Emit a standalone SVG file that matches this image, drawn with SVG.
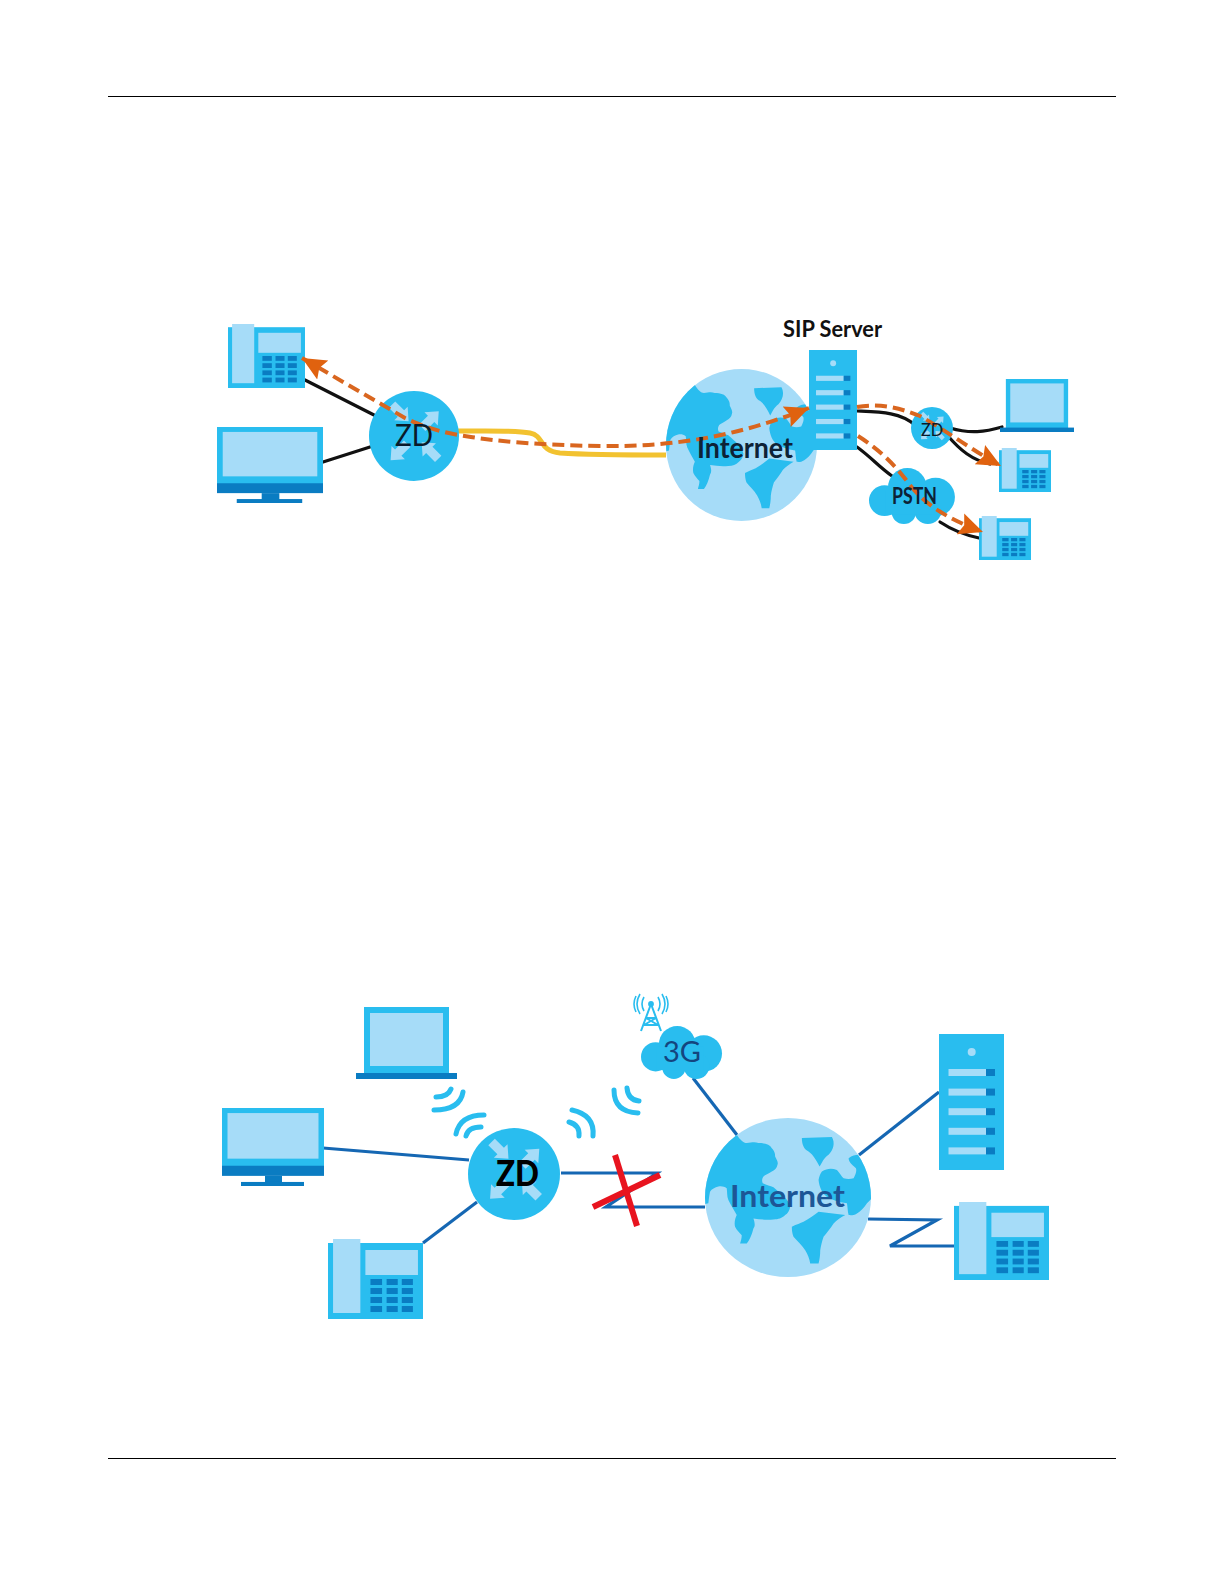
<svg xmlns="http://www.w3.org/2000/svg" xmlns:xlink="http://www.w3.org/1999/xlink" width="1224" height="1584" viewBox="0 0 1224 1584">
<style>
.b{fill:#29bdef}.l{fill:#a6dcf8}.d{fill:#0a7cc2}
.wire{fill:none;stroke:#111;stroke-width:3.200;stroke-linecap:round}
.blue{fill:none;stroke:#1567b3;stroke-width:3.200;stroke-linejoin:miter}
.flow{fill:none;stroke:#d9661f;stroke-width:4;stroke-dasharray:12 6}
.wifi{fill:none;stroke:#29bdef;stroke-width:5;stroke-linecap:round}
.t{font-family:"Lato","Liberation Sans",sans-serif;text-anchor:start}
</style>
<defs>
<marker id="ah" markerUnits="userSpaceOnUse" markerWidth="30" markerHeight="30" refX="24" refY="12" orient="auto-start-reverse" viewBox="0 0 30 24">
<path d="M24,12 L0,1 L4,12 L0,23 Z" fill="#e0620f"/>
</marker>
<symbol id="phone" viewBox="0 0 94 80" preserveAspectRatio="none">
<rect class="b" x="0" y="4" width="94" height="76"/>
<rect class="l" x="5" y="0" width="27" height="74"/>
<rect class="l" x="37" y="11" width="52" height="25"/>
<g class="d">
<rect x="42" y="40" width="11.500" height="6"/><rect x="58" y="40" width="11" height="6"/><rect x="73" y="40" width="11" height="6"/>
<rect x="42" y="49" width="11.500" height="6"/><rect x="58" y="49" width="11" height="6"/><rect x="73" y="49" width="11" height="6"/>
<rect x="42" y="58" width="11.500" height="6"/><rect x="58" y="58" width="11" height="6"/><rect x="73" y="58" width="11" height="6"/>
<rect x="42" y="67" width="11.500" height="6"/><rect x="58" y="67" width="11" height="6"/><rect x="73" y="67" width="11" height="6"/>
</g>
</symbol>
<symbol id="monitor" viewBox="0 0 102 77" preserveAspectRatio="none">
<rect class="b" x="0" y="0" width="102" height="58"/>
<rect class="l" x="5.500" y="5" width="91" height="45"/>
<rect class="d" x="0" y="57" width="102" height="10"/>
<rect class="d" x="43" y="67" width="17" height="7"/>
<rect class="d" x="19" y="73" width="63" height="4"/>
</symbol>
<symbol id="laptop" viewBox="0 0 101 72" preserveAspectRatio="none">
<rect class="b" x="8" y="0" width="85" height="67"/>
<rect class="l" x="14" y="6" width="73" height="53"/>
<rect class="d" x="0" y="66" width="101" height="6"/>
</symbol>
<symbol id="server" viewBox="0 0 65 136" preserveAspectRatio="none">
<rect class="b" width="65" height="136"/>
<circle class="l" cx="32.700" cy="18" r="4"/>
<g class="l"><rect x="9.500" y="35" width="37.500" height="7"/><rect x="9.500" y="54.600" width="37.500" height="7"/><rect x="9.500" y="74.200" width="37.500" height="7"/><rect x="9.500" y="93.800" width="37.500" height="7"/><rect x="9.500" y="113.400" width="37.500" height="7"/></g>
<g class="d"><rect x="47" y="35" width="9" height="7"/><rect x="47" y="54.600" width="9" height="7"/><rect x="47" y="74.200" width="9" height="7"/><rect x="47" y="93.800" width="9" height="7"/><rect x="47" y="113.400" width="9" height="7"/></g>
</symbol>
<clipPath id="gc"><ellipse cx="563.500" cy="652.500" rx="248.500" ry="237.500"/></clipPath>
<symbol id="globe" viewBox="315 415 497 475" preserveAspectRatio="none">
<ellipse class="l" cx="563.500" cy="652.500" rx="248.500" ry="237.500"/>
<g class="b" clip-path="url(#gc)">
<path d="M300,400 L410,465 C420,480 430,490 440,490 C455,488 465,486 475,490 C495,490 510,495 515,505 C525,515 525,525 525,530 C530,540 535,548 532,555 C530,565 525,570 515,575 C505,582 495,585 490,590 C485,597 485,605 488,610 C500,615 510,618 520,622 C540,640 565,655 570,680 C568,692 563,700 555,705 C545,715 535,718 520,718 C500,720 480,718 460,715 C465,730 465,738 460,745 C455,765 448,780 440,790 L420,790 C422,782 425,775 425,765 C418,758 410,750 405,740 C402,728 405,715 410,705 C402,690 392,675 385,660 C380,648 382,635 380,625 C372,620 365,618 355,620 C345,622 335,628 330,635 C328,645 326,660 325,670 L280,680 Z"/>
<path d="M605,475 L695,472 C705,490 700,510 685,525 C670,535 665,550 658,560 C650,545 640,525 625,515 C612,510 605,495 605,475 Z"/>
<path d="M745,535 C755,528 765,525 775,525 L830,600 L815,655 L800,670 C790,685 780,695 770,700 C760,706 752,706 745,705 C742,695 742,680 740,670 C715,665 695,660 680,650 C665,640 657,620 655,600 C657,590 660,582 665,575 C680,565 695,565 710,570 C718,578 724,590 730,595 C740,598 750,598 760,595 C765,585 770,575 767,565 C762,558 745,550 745,535 Z"/>
<path d="M575,740 C590,732 600,730 610,725 C628,715 642,705 655,695 L735,705 C722,712 710,720 700,730 C690,745 680,758 670,770 C665,785 662,797 660,810 C660,825 658,838 655,850 L630,850 C628,835 622,822 615,810 C605,795 590,782 580,770 C576,760 575,750 575,740 Z"/>
</g>
</symbol>
<symbol id="cloud" viewBox="123 137 247 160" preserveAspectRatio="none">
<g class="b"><circle cx="167" cy="230" r="44"/><circle cx="232" cy="192" r="55"/><circle cx="312" cy="220" r="55"/><circle cx="222" cy="262" r="35"/><circle cx="290" cy="258" r="39"/><rect x="170" y="200" width="140" height="70"/></g>
</symbol>
<g id="arrow"><path d="M0,0 L-24,-21 L-24,-10 L-52,-10 L-52,10 L-24,10 L-24,21 Z" class="l"/></g>
<symbol id="router" viewBox="-100 -100 200 200">
<circle class="b" r="100"/>
<use href="#arrow" transform="translate(-12,-33) rotate(45)"/>
<use href="#arrow" transform="translate(55,-55) rotate(-45)"/>
<use href="#arrow" transform="translate(-52,54) rotate(135)"/>
<use href="#arrow" transform="translate(17,14) rotate(225)"/>
</symbol>
</defs>
<rect width="1224" height="1584" fill="#fff"/>
<line x1="108" y1="96.500" x2="1116" y2="96.500" stroke="#000" stroke-width="1"/>
<line x1="108" y1="1458.500" x2="1116" y2="1458.500" stroke="#000" stroke-width="1"/>

<g id="connectors">
<path class="wire" d="M305,380 L374,415"/>
<path class="wire" d="M323,462 L370,447"/>
<path d="M458,431 C490,431 515,430 530,433 C545,436 538,451 560,453 C590,455 630,455 666,455" fill="none" stroke="#f2c230" stroke-width="5"/>
<path class="wire" d="M857,411 C880,412 900,412 915,425"/>
<path class="wire" d="M950,428 C970,434 985,432 1002,427"/>
<path class="wire" d="M948,436 C960,450 972,460 990,464"/>
<path class="wire" d="M857,447 C872,458 878,466 892,476"/>
<path class="wire" d="M940,522 C952,530 965,535 979,538"/>
<path class="blue" d="M323,1148 L469,1160"/>
<path class="blue" d="M423,1243 L477,1202"/>
<path class="blue" d="M561,1173 L657,1173 L606,1207 L705,1207"/>
<path class="blue" d="M693,1078 L737,1135"/>
<path class="blue" d="M859,1155 L939,1092"/>
<path class="blue" d="M868,1219 L937,1220 L890,1246 L954,1246"/>
</g>

<g id="phone-1"><use href="#phone" x="228" y="324" width="77" height="64"/></g>
<g id="monitor-1"><use href="#monitor" x="217" y="427" width="106" height="76"/></g>
<g id="router-1"><use href="#router" x="369" y="391" width="90" height="90"/></g>
<g id="internet-1"><use href="#globe" x="666" y="369" width="151" height="152"/></g>
<g id="server-1"><use href="#server" x="809" y="350" width="48" height="100"/></g>
<g id="router-2"><use href="#router" x="911" y="407" width="42" height="42"/></g>
<g id="laptop-1"><use href="#laptop" x="1000" y="379" width="74" height="53"/></g>
<g id="phone-2"><use href="#phone" x="999" y="448" width="52" height="44"/></g>
<g id="pstn"><use href="#cloud" x="869" y="468" width="87" height="56"/></g>
<g id="phone-3"><use href="#phone" x="979" y="516" width="52" height="44"/></g>

<g id="monitor-2"><use href="#monitor" x="222" y="1108" width="102" height="78"/></g>
<g id="laptop-2"><use href="#laptop" x="356" y="1007" width="101" height="72"/></g>
<g id="phone-4"><use href="#phone" x="328" y="1239" width="95" height="80"/></g>
<g id="router-3"><use href="#router" x="468" y="1128" width="92" height="92"/></g>
<g id="internet-2"><use href="#globe" x="705" y="1118" width="166" height="159"/></g>
<g id="server-2"><use href="#server" x="939" y="1034" width="65" height="136"/></g>
<g id="phone-5"><use href="#phone" x="954" y="1202" width="95" height="78"/></g>
<g id="cloud-3g"><use href="#cloud" x="641" y="1026" width="82" height="53"/></g>

<g id="tower" fill="none" stroke="#29bdef" stroke-width="1.800">
<path d="M651,1004 L641,1031 M651,1004 L661,1031 M646,1018 L656,1018 M644,1025 L658,1025 M646,1018 L658,1025 M656,1018 L644,1025" stroke-width="2"/>
<circle cx="651" cy="1004" r="2" fill="#29bdef"/>
<path d="M644,997 Q640,1004 644,1011 M658,997 Q662,1004 658,1011 M640,994 Q634,1004 640,1014 M662,994 Q668,1004 662,1014 M636,996 Q632,1004 636,1012 M666,996 Q670,1004 666,1012" stroke-width="1.600"/>
</g>

<g id="wifi">
<path class="wifi" d="M436,1097 Q448,1097 451,1089"/>
<path class="wifi" d="M434,1110 Q460,1110 463,1092"/>
<path class="wifi" d="M466,1136 Q468,1127 481,1127"/>
<path class="wifi" d="M456,1134 Q460,1115 484,1115"/>
<path class="wifi" d="M569,1122 Q580,1125 579,1136"/>
<path class="wifi" d="M572,1110 Q595,1115 593,1136"/>
<path class="wifi" d="M627,1088 Q628,1100 639,1101"/>
<path class="wifi" d="M614,1090 Q614,1112 638,1113"/>
</g>

<g id="cross" stroke="#e8141f" stroke-width="6">
<line x1="615" y1="1155" x2="637" y2="1226"/>
<line x1="593" y1="1207" x2="660" y2="1175"/>
</g>

<g id="connectors-flow">
<path class="flow" marker-start="url(#ah)" marker-end="url(#ah)" d="M302,358 L405,418 Q430,430 458,435 C500,442 540,445 600,446 C680,447 740,435 809,408"/>
<path class="flow" marker-end="url(#ah)" d="M857,407 C880,403 900,408 920,416 C945,430 975,452 1001,466"/>
<path class="flow" marker-end="url(#ah)" d="M858,436 C880,450 895,465 910,485 C925,505 950,520 983,532"/>
</g>

<g id="labels">
<text class="t" x="783" y="337" font-size="22" font-weight="700" textLength="99" lengthAdjust="spacingAndGlyphs" fill="#111">SIP Server</text>
<text class="t" x="395" y="446" font-size="30" textLength="38" lengthAdjust="spacingAndGlyphs" fill="#0a1a2a">ZD</text>
<text class="t" x="697" y="458" font-size="28" font-weight="700" textLength="96" lengthAdjust="spacingAndGlyphs" fill="#0d2236">Internet</text>
<text class="t" x="921" y="436" font-size="17" textLength="22" lengthAdjust="spacingAndGlyphs" fill="#0a1a2a">ZD</text>
<text class="t" x="892" y="504" font-size="22" font-weight="700" textLength="45" lengthAdjust="spacingAndGlyphs" fill="#0d2236">PSTN</text>
<text class="t" x="496" y="1186" font-size="36" font-weight="900" textLength="43" lengthAdjust="spacingAndGlyphs" fill="#000">ZD</text>
<text class="t" x="663" y="1062" font-size="28" textLength="38" lengthAdjust="spacingAndGlyphs" fill="#14457f">3G</text>
<text class="t" x="730" y="1207" font-size="31" font-weight="700" textLength="115" lengthAdjust="spacingAndGlyphs" fill="#1d5696">Internet</text>
</g>
</svg>
